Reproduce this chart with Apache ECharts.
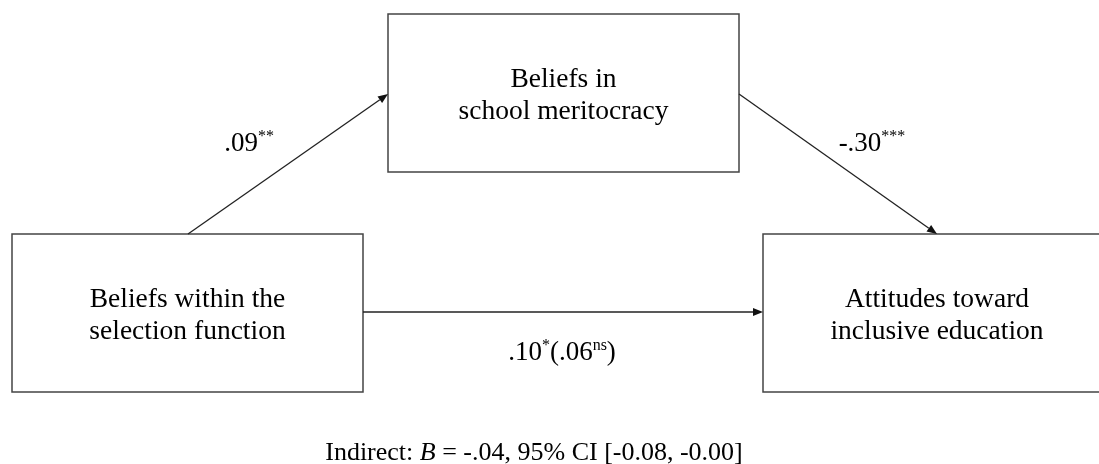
<!DOCTYPE html>
<html>
<head>
<meta charset="utf-8">
<script src="https://cdn.jsdelivr.net/npm/echarts@6/dist/echarts.min.js"></script>
<style>
  html, body { margin: 0; padding: 0; background: #fff; }
  #main { width: 1099px; height: 464px; }
</style>
</head>
<body>
<div id="main"></div>
<script>
// variables of the mediation model, box corners in picture units [x0, y0, x1, y1]
var boxNames = ['Beliefs within the\nselection function', 'Beliefs in\nschool meritocracy', 'Attitudes toward\ninclusive education'];
var boxCorners = [[12, 234, 363, 392], [388, 14, 739, 172], [763, 234, 1111, 392]];

// paths: from -> to  [x0, y0, x1, y1]
var pathCoords = [
    [188, 234, 388, 94],
    [739, 94, 937, 234],
    [363, 312, 763, 312]
];

// path coefficients and where the label sits
var coefText = ['{v|.09}{s|**}', '{v|-.30}{s|***}', '{v|.10}{s|*}{v|(.06}{s|ns}{v|)}'];
var coefPos = [[249, 144], [872, 144], [562, 353]];

var noteText = '{v|Indirect: }{i|B}{v| = -.04, 95% CI [-0.08, -0.00]}';
var notePos = [534, 453];

var serif = '"Liberation Serif", "Times New Roman", serif';

var dom = document.getElementById('main');
var myChart = echarts.init(dom);
var option = null;

option = {
    animation: false,
    backgroundColor: '#fff',
    grid: { left: 0, right: 0, top: 0, bottom: 0 },
    xAxis: { type: 'value', min: 0, max: 1099, show: false },
    yAxis: { type: 'value', min: 0, max: 464, inverse: true, show: false },
    series: [
        {
            type: 'custom',
            renderItem: function (params, api) {
                var c = boxCorners[params.dataIndex];
                var p0 = api.coord([c[0], c[1]]);
                var p1 = api.coord([c[2], c[3]]);
                return {
                    type: 'group',
                    children: [
                        {
                            type: 'rect',
                            shape: { x: p0[0], y: p0[1], width: p1[0] - p0[0], height: p1[1] - p0[1] },
                            style: { fill: '#fff', stroke: '#444', lineWidth: 1.5 }
                        },
                        {
                            type: 'text',
                            x: (p0[0] + p1[0]) / 2,
                            y: (p0[1] + p1[1]) / 2 + 3,
                            style: {
                                text: boxNames[params.dataIndex],
                                fontFamily: serif,
                                fontSize: 27.5,
                                lineHeight: 32,
                                fill: '#000',
                                align: 'center',
                                verticalAlign: 'middle'
                            }
                        }
                    ]
                };
            },
            data: boxCorners.map(function (c) { return [(c[0] + c[2]) / 2, (c[1] + c[3]) / 2]; }),
            z: 1
        },
        {
            // arrows: line plus a filled head whose tip sits on the end point
            type: 'custom',
            renderItem: function (params, api) {
                var d = pathCoords[params.dataIndex];
                var a = api.coord([d[0], d[1]]);
                var b = api.coord([d[2], d[3]]);
                var dx = b[0] - a[0], dy = b[1] - a[1];
                var len = Math.sqrt(dx * dx + dy * dy);
                var ux = dx / len, uy = dy / len;
                var hl = 10, hw = 4;
                var bx = b[0] - ux * hl, by = b[1] - uy * hl;
                return {
                    type: 'group',
                    children: [
                        {
                            type: 'line',
                            shape: { x1: a[0], y1: a[1], x2: bx, y2: by },
                            style: { stroke: '#222', lineWidth: 1.3 }
                        },
                        {
                            type: 'polygon',
                            shape: { points: [[b[0], b[1]], [bx - uy * hw, by + ux * hw], [bx + uy * hw, by - ux * hw]] },
                            style: { fill: '#111' }
                        }
                    ]
                };
            },
            data: pathCoords.map(function (d) { return [d[2], d[3]]; }),
            z: 3
        },
        {
            type: 'scatter',
            symbolSize: 0,
            itemStyle: { opacity: 1 },
            data: coefPos,
            label: {
                show: true,
                position: 'inside',
                formatter: function (p) { return coefText[p.dataIndex]; },
                rich: {
                    v: { fontFamily: serif, fontSize: 27, lineHeight: 30, color: '#000' },
                    s: { fontFamily: serif, fontSize: 16, lineHeight: 16, verticalAlign: 'top', color: '#000' }
                }
            },
            z: 4
        },
        {
            type: 'scatter',
            symbolSize: 0,
            itemStyle: { opacity: 1 },
            data: [notePos],
            label: {
                show: true,
                position: 'inside',
                formatter: noteText,
                rich: {
                    v: { fontFamily: serif, fontSize: 26, color: '#000' },
                    i: { fontFamily: serif, fontSize: 26, fontStyle: 'italic', color: '#000' }
                }
            },
            z: 4
        }
    ]
};

if (option && typeof option === "object") {
    myChart.setOption(option, true);
}
</script>
</body>
</html>
